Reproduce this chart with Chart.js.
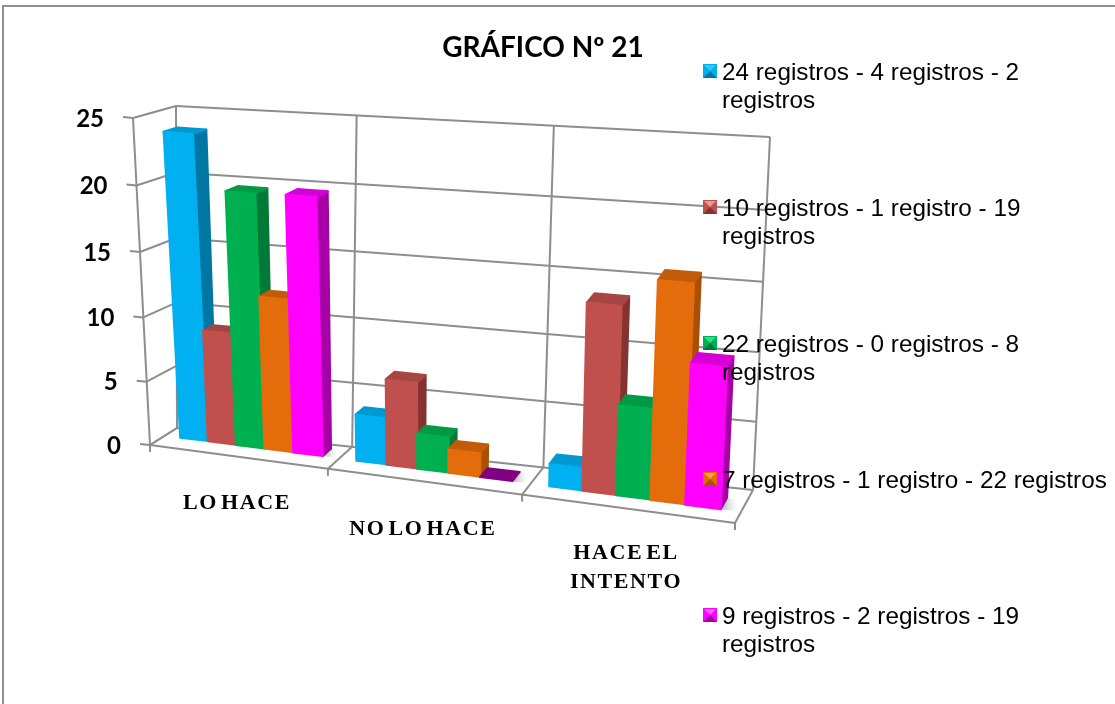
<!DOCTYPE html>
<html lang="es">
<head>
<meta charset="utf-8">
<title>Gráfico Nº 21</title>
<script src="https://cdn.jsdelivr.net/npm/chart.js@4"></script>
<style>
  html, body { margin: 0; padding: 0; background: #fff; }
  #frame { position: absolute; left: 2px; top: 5px; width: 1113px; height: 699px; box-sizing: border-box;
           border-left: 2px solid #8f8f8f; border-top: 2px solid #8f8f8f; }
  #chart { position: absolute; left: 0; top: 0; filter: blur(0.4px); }
</style>
</head>
<body>
<div id="frame"></div>
<canvas id="chart" width="1115" height="704"></canvas>
<script>
// Chart data
const categories = ['LO HACE', 'NO LO HACE', ['HACE EL', 'INTENTO']];
const seriesNames = [
  ['24 registros - 4 registros - 2', 'registros'],
  ['10 registros - 1 registro - 19', 'registros'],
  ['22 registros - 0 registros - 8', 'registros'],
  ['7 registros - 1 registro - 22 registros'],
  ['9 registros - 2 registros - 19', 'registros']
];
const blueValues = [23.8, 3.6, 1.7];
const redValues = [8.8, 6.6, 13.9];
const greenValues = [19.7, 2.7, 6.7];
const orangeValues = [11.9, 1.8, 16];
const magentaValues = [19.8, 0, 10.3];
const chartTitle = 'GRÁFICO Nº 21';

// front, side and top colours of each series
const faceColors = ['#00b0f0', '#c0504d', '#00b050', '#e46c0a', '#ff00ff'];
const sideColors = ['#0077a3', '#853330', '#007a36', '#a85006', '#a600a6'];
const topColors = ['#0098d0', '#a64643', '#009a45', '#c25c08', '#d600d6'];
const flatColor = '#800080';
const legendLight = ['#33c8ff', '#e89a98', '#30e088', '#ffa040', '#ff60ff'];

// Corners of the 3D box on the page: F/B front/back, B/T bottom/top, L/R
const box = {
  fbl: [150, 445], fbr: [735, 523], bbl: [177, 428], bbr: [753, 490],
  ftl: [133, 118], ftr: [752, 168], btl: [176, 106], btr: [770, 137]
};
const WALL_COLOR = '#8e8e8e';

const lerp = (a, b, t) => a + (b - a) * t;
const warp = (t, k) => k * t / (1 - (1 - k) * t);

// Bars sit a bit further back on the left than on the right of the floor,
// and the camera pulls their tops forward on the left side
const barFront = (u, v) => lerp(0.55, 0.33, u) - 0.25 * v * (1 - u);
const barBack = (u, v) => lerp(0.88, 0.68, u) - 0.25 * v * (1 - u);

// u across the floor, v up the wall, d from front to back, all 0..1
function project(u, v, d) {
  const wu = warp(u, 0.874);
  const wv = warp(v, 0.96);
  const out = [0, 1].map(i => {
    const fb = lerp(box.fbl[i], box.fbr[i], wu);
    const bb = lerp(box.bbl[i], box.bbr[i], wu);
    const ft = lerp(box.ftl[i], box.ftr[i], wu);
    const bt = lerp(box.btl[i], box.btr[i], wu);
    return lerp(lerp(fb, bb, d), lerp(ft, bt, d), wv);
  });
  return { x: out[0], y: out[1] };
}

function line(ctx, a, b) {
  ctx.beginPath();
  ctx.moveTo(a.x, a.y);
  ctx.lineTo(b.x, b.y);
  ctx.stroke();
}

function quad(ctx, pts, fill) {
  ctx.beginPath();
  pts.forEach((p, i) => i ? ctx.lineTo(p.x, p.y) : ctx.moveTo(p.x, p.y));
  ctx.closePath();
  ctx.fillStyle = fill;
  ctx.strokeStyle = fill;
  ctx.lineWidth = 2;
  ctx.lineJoin = 'round';
  ctx.fill();
  ctx.stroke();
}

// Maps a library pixel to the 0..1 units used by project()
const toU = (chart, px) => (px - chart.chartArea.left) / chart.chartArea.width;
const toV = (chart, py) => (chart.chartArea.bottom - py) / chart.chartArea.height;

function drawWalls(chart) {
  const ctx = chart.ctx;
  const yScale = chart.scales.y;
  ctx.save();
  ctx.strokeStyle = WALL_COLOR;
  ctx.lineWidth = 2;

  // gridlines and value labels
  yScale.ticks.forEach(tick => {
    const v = toV(chart, yScale.getPixelForValue(tick.value));
    const front = project(0, v, 0);
    const back = project(0, v, 1);
    const right = project(1, v, 1);
    line(ctx, { x: front.x - 10, y: front.y - 1 }, front);
    line(ctx, front, back);
    line(ctx, back, right);
  });
  line(ctx, project(0, 0, 0), project(0, 1, 0));
  line(ctx, project(0, 0, 1), project(0, 1, 1));
  line(ctx, project(1, 0, 1), project(1, 1, 1));
  line(ctx, project(0, 0, 0), project(1, 0, 0));

  // category dividers on the back wall and floor, tick marks below the front edge
  [0, 1, 2, 3].forEach(i => {
    const u = i / 3;
    if (i > 0 && i < 3) line(ctx, project(u, 0, 1), project(u, 1, 1));
    line(ctx, project(u, 0, 0), project(u, 0, 1));
    const p = project(u, 0, 0);
    line(ctx, p, { x: p.x, y: p.y + 7 });
  });

  // soft shadow on the floor at the right of each group
  const lastBars = chart.getDatasetMeta(chart.data.datasets.length - 1).data;
  lastBars.forEach(bar => {
    const u = toU(chart, bar.x + bar.width / 2);
    const d0 = barFront(u, 0);
    const d1 = barBack(u, 0);
    const a = project(u, 0, d0);
    const b = project(u + 0.03, 0, d0);
    const g = ctx.createLinearGradient(a.x, 0, b.x, 0);
    g.addColorStop(0, '#a8a8a8');
    g.addColorStop(1, 'rgba(255,255,255,0)');
    ctx.beginPath();
    [a, project(u, 0, d1), project(u + 0.03, 0, d1), b].forEach((p, i) =>
      i ? ctx.lineTo(p.x, p.y) : ctx.moveTo(p.x, p.y));
    ctx.closePath();
    ctx.fillStyle = g;
    ctx.fill();
  });
  ctx.restore();
}

function drawBar(chart, bar, index) {
  const ctx = chart.ctx;
  const u0 = toU(chart, bar.x - bar.width / 2);
  const u1 = toU(chart, bar.x + bar.width / 2);
  const v = toV(chart, bar.y);
  const um = (u0 + u1) / 2;
  const lo0 = barFront(um, 0), lo1 = barBack(um, 0);
  const hi0 = barFront(um, v), hi1 = barBack(um, v);
  if (v <= 0) {
    // empty bar: only a flat cap on the floor
    quad(ctx, [project(u0, 0, lo0), project(u1, 0, lo0), project(u1, 0, lo1), project(u0, 0, lo1)], flatColor);
    return;
  }
  quad(ctx, [project(u1, 0, lo0), project(u1, 0, lo1), project(u1, v, hi1), project(u1, v, hi0)], sideColors[index]);
  quad(ctx, [project(u0, v, hi0), project(u1, v, hi0), project(u1, v, hi1), project(u0, v, hi1)], topColors[index]);
  quad(ctx, [project(u0, 0, lo0), project(u1, 0, lo0), project(u1, v, hi0), project(u0, v, hi0)], faceColors[index]);
}

function drawAxisText(chart) {
  const ctx = chart.ctx;
  const yScale = chart.scales.y;
  const xScale = chart.scales.x;
  ctx.save();
  ctx.fillStyle = '#000';

  ctx.font = 'bold 24px Lato';
  ctx.textAlign = 'right';
  ctx.textBaseline = 'middle';
  yScale.ticks.forEach(tick => {
    const p = project(0, toV(chart, yScale.getPixelForValue(tick.value)), 0);
    ctx.fillText(tick.label, p.x - 29, p.y + 1);
  });

  ctx.font = 'bold 22px "Liberation Serif"';
  ctx.textAlign = 'center';
  ctx.letterSpacing = '1.6px';
  ctx.wordSpacing = '-4px';
  const labelDrop = [47, 48, 45];
  categories.forEach((label, i) => {
    const p = project(toU(chart, xScale.getPixelForTick(i)), 0, 0);
    const lines = Array.isArray(label) ? label : [label];
    lines.forEach((text, j) => ctx.fillText(text, p.x, p.y + labelDrop[i] + j * 29));
  });
  ctx.restore();
}

function drawLegend(chart) {
  const ctx = chart.ctx;
  ctx.save();
  ctx.font = '24.3px "Liberation Sans"';
  ctx.textAlign = 'left';
  ctx.textBaseline = 'middle';
  const rowY = [71, 207, 343, 479, 615];
  seriesNames.forEach((rows, i) => {
    const x = 703, y = rowY[i] - 7, s = 14;
    const c = { x: x + s / 2, y: y + s / 2 };
    ctx.fillStyle = faceColors[i];
    ctx.fillRect(x, y, s, s);
    ctx.fillStyle = legendLight[i];
    ctx.beginPath(); ctx.moveTo(x + 1, y + 1); ctx.lineTo(x + s - 1, y + 1); ctx.lineTo(c.x, c.y); ctx.fill();
    ctx.fillStyle = sideColors[i];
    ctx.beginPath(); ctx.moveTo(x, y + s); ctx.lineTo(x + s, y + s); ctx.lineTo(c.x, c.y); ctx.fill();
    ctx.fillStyle = '#000';
    rows.forEach((text, j) => ctx.fillText(text, 722, rowY[i] + 2 + j * 28));
  });
  ctx.restore();
}

// Skips the library's flat bars and draws them as boxes from the same elements,
// first series first so that each bar hides the side of the one before it
const perspectivePlugin = {
  id: 'perspective',
  beforeDatasetsDraw(chart) {
    drawWalls(chart);
    chart.data.datasets.forEach((ds, i) => {
      chart.getDatasetMeta(i).data.forEach(bar => drawBar(chart, bar, i));
    });
  },
  beforeDatasetDraw() {
    return false;
  },
  afterDraw(chart) {
    drawAxisText(chart);
    drawLegend(chart);
  }
};

const datasetValues = [blueValues, redValues, greenValues, orangeValues, magentaValues];

new Chart(document.getElementById('chart'), {
  type: 'bar',
  data: {
    labels: categories,
    datasets: datasetValues.map((data, i) => ({
      label: seriesNames[i].join(' '),
      data: data,
      backgroundColor: faceColors[i]
    }))
  },
  options: {
    responsive: false,
    animation: false,
    categoryPercentage: 0.815,
    barPercentage: 1,
    layout: { padding: { top: 31, left: 150, right: 179, bottom: 259 } },
    plugins: {
      legend: { display: false },
      tooltip: { enabled: false },
      title: {
        display: true,
        text: chartTitle,
        fullSize: false,
        color: '#000',
        font: { family: 'Lato', size: 28, weight: 'bold' },
        padding: { top: 0, bottom: 54 }
      }
    },
    scales: {
      x: { display: false },
      y: { display: false, min: 0, max: 25, ticks: { stepSize: 5 } }
    }
  },
  plugins: [perspectivePlugin]
});
</script>
</body>
</html>
